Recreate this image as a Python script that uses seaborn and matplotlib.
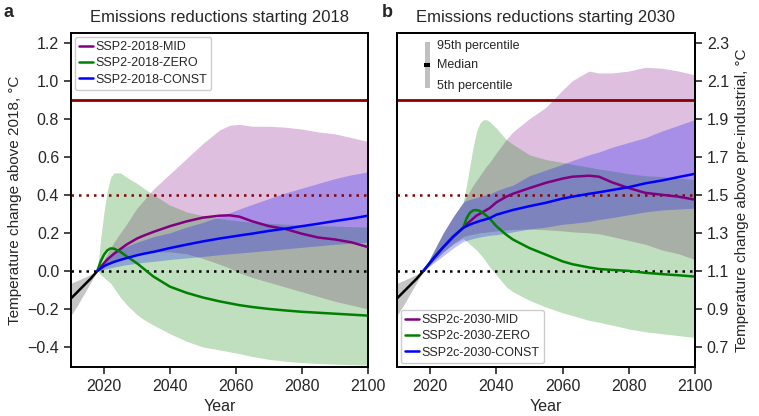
import numpy as np
import pandas as pd
import matplotlib
matplotlib.use("Agg")
import matplotlib.pyplot as plt
import seaborn as sns
from matplotlib.patches import Rectangle

# ---------------- data ----------------
# historical, temperature above 2018 (degC)
hist_years = [2010, 2012, 2014, 2016, 2018]
hist_med = [-0.145, -0.11, -0.075, -0.04, 0.0]
hist_lo = [-0.235, -0.18, -0.12, -0.06, 0.0]
hist_hi = [-0.065, -0.05, -0.035, -0.018, 0.0]

# panel a: reductions starting 2018 (above 2018, degC)
years_a = [2018, 2019, 2020, 2021, 2022, 2023, 2025, 2027, 2030, 2032, 2035, 2040, 2045,
           2050, 2055, 2058, 2061, 2065, 2070, 2075, 2080, 2085, 2090, 2095, 2100]
mid_a = [0, 0.02, 0.04, 0.06, 0.075, 0.09, 0.115, 0.14, 0.17, 0.185, 0.205, 0.235, 0.26,
         0.28, 0.29, 0.292, 0.285, 0.26, 0.235, 0.22, 0.195, 0.175, 0.165, 0.15, 0.125]
mid_a_lo = [0, 0.005, 0.02, 0.03, 0.04, 0.05, 0.06, 0.075, 0.09, 0.095, 0.1, 0.1, 0.09,
            0.065, 0.035, 0.015, -0.01, -0.035, -0.06, -0.085, -0.11, -0.135, -0.16, -0.18, -0.2]
mid_a_hi = [0, 0.03, 0.06, 0.09, 0.12, 0.15, 0.2, 0.25, 0.33, 0.37, 0.43, 0.51, 0.59,
            0.67, 0.74, 0.765, 0.77, 0.76, 0.76, 0.755, 0.745, 0.73, 0.72, 0.7, 0.68]
zero_a = [0, 0.05, 0.085, 0.108, 0.118, 0.117, 0.1, 0.075, 0.04, 0.012, -0.03, -0.083, -0.115,
          -0.14, -0.16, -0.17, -0.18, -0.19, -0.2, -0.208, -0.215, -0.22, -0.225, -0.23, -0.235]
zero_a_lo = [0, -0.02, -0.035, -0.05, -0.065, -0.09, -0.14, -0.18, -0.23, -0.255, -0.285, -0.33, -0.37,
             -0.4, -0.415, -0.425, -0.435, -0.45, -0.465, -0.475, -0.482, -0.487, -0.49, -0.493, -0.495]
zero_a_hi = [0, 0.17, 0.31, 0.42, 0.49, 0.515, 0.515, 0.49, 0.46, 0.435, 0.4, 0.345, 0.31,
             0.29, 0.275, 0.268, 0.262, 0.255, 0.25, 0.245, 0.24, 0.237, 0.235, 0.232, 0.23]
const_a = [0, 0.013, 0.025, 0.033, 0.04, 0.047, 0.058, 0.068, 0.082, 0.09, 0.1, 0.12, 0.138,
           0.155, 0.17, 0.178, 0.186, 0.196, 0.21, 0.222, 0.235, 0.248, 0.262, 0.275, 0.29]
const_a_lo = [0, 0.004, 0.008, 0.012, 0.016, 0.02, 0.027, 0.033, 0.04, 0.045, 0.05, 0.06, 0.068,
              0.076, 0.085, 0.09, 0.094, 0.1, 0.108, 0.116, 0.124, 0.132, 0.14, 0.145, 0.15]
const_a_hi = [0, 0.028, 0.052, 0.068, 0.082, 0.095, 0.115, 0.13, 0.15, 0.162, 0.18, 0.2, 0.23,
              0.255, 0.285, 0.305, 0.325, 0.35, 0.38, 0.41, 0.435, 0.46, 0.485, 0.505, 0.52]

# panel b: reductions starting 2030 (above pre-industrial, degC)
years_b = [2018, 2021, 2024, 2027, 2030, 2031, 2032, 2033, 2034, 2035, 2036, 2037, 2038, 2040,
           2043, 2045, 2050, 2055, 2060, 2063, 2068, 2071, 2075, 2080, 2085, 2090, 2095, 2100]
mid_b = [1.1, 1.165, 1.225, 1.28, 1.326, 1.345, 1.36, 1.375, 1.39, 1.4, 1.41, 1.42, 1.43, 1.46,
         1.49, 1.505, 1.535, 1.563, 1.585, 1.595, 1.6, 1.595, 1.565, 1.535, 1.51, 1.5, 1.49, 1.474]
mid_b_lo = [1.1, 1.15, 1.2, 1.245, 1.28, 1.285, 1.29, 1.293, 1.296, 1.3, 1.302, 1.304, 1.306, 1.31,
            1.315, 1.318, 1.32, 1.316, 1.31, 1.305, 1.3, 1.295, 1.28, 1.26, 1.24, 1.21, 1.19, 1.16]
mid_b_hi = [1.1, 1.2, 1.3, 1.385, 1.46, 1.49, 1.52, 1.55, 1.575, 1.6, 1.625, 1.65, 1.67, 1.72,
            1.79, 1.83, 1.9, 1.96, 2.05, 2.1, 2.15, 2.14, 2.14, 2.15, 2.17, 2.165, 2.15, 2.13]
zero_b = [1.1, 1.165, 1.225, 1.28, 1.326, 1.375, 1.405, 1.418, 1.42, 1.415, 1.403, 1.39, 1.375, 1.335,
          1.29, 1.265, 1.22, 1.185, 1.15, 1.135, 1.118, 1.11, 1.105, 1.1, 1.09, 1.083, 1.077, 1.07]
zero_b_lo = [1.1, 1.15, 1.2, 1.24, 1.27, 1.255, 1.24, 1.225, 1.21, 1.19, 1.17, 1.145, 1.12, 1.08,
             1.016, 0.99, 0.945, 0.91, 0.88, 0.865, 0.84, 0.83, 0.815, 0.795, 0.78, 0.77, 0.76, 0.75]
zero_b_hi = [1.1, 1.2, 1.3, 1.385, 1.46, 1.55, 1.65, 1.75, 1.83, 1.875, 1.893, 1.895, 1.884, 1.85,
             1.79, 1.765, 1.71, 1.685, 1.67, 1.66, 1.645, 1.635, 1.625, 1.61, 1.6, 1.595, 1.587, 1.58]
const_b = [1.1, 1.165, 1.225, 1.28, 1.326, 1.335, 1.343, 1.35, 1.356, 1.362, 1.367, 1.372, 1.377, 1.395,
           1.41, 1.42, 1.44, 1.458, 1.48, 1.49, 1.505, 1.513, 1.525, 1.54, 1.56, 1.575, 1.593, 1.61]
const_b_lo = [1.1, 1.14, 1.18, 1.22, 1.255, 1.26, 1.265, 1.27, 1.274, 1.278, 1.281, 1.284, 1.287, 1.29,
              1.298, 1.305, 1.32, 1.33, 1.345, 1.35, 1.36, 1.37, 1.38, 1.395, 1.41, 1.42, 1.425, 1.43]
const_b_hi = [1.1, 1.2, 1.3, 1.385, 1.46, 1.47, 1.475, 1.48, 1.485, 1.49, 1.495, 1.5, 1.505, 1.52,
              1.54, 1.55, 1.6, 1.63, 1.66, 1.68, 1.71, 1.725, 1.75, 1.775, 1.8, 1.835, 1.865, 1.895]

labels_a = ["SSP2-2018-MID", "SSP2-2018-ZERO", "SSP2-2018-CONST"]
labels_b = ["SSP2c-2030-MID", "SSP2c-2030-ZERO", "SSP2c-2030-CONST"]
colors = ["purple", "green", "blue"]

ref_a = {"solid": 0.9, "dotted": 0.4, "base": 0.0}
ref_b = {"solid": 2.0, "dotted": 1.5, "base": 1.1}
ylim_a = (-0.505, 1.25)
ylim_b = (0.595, 2.35)

# ---------------- plot ----------------
sns.set_style("ticks")
plt.rcParams["font.family"] = ["Liberation Sans", "DejaVu Sans"]
plt.rcParams["axes.linewidth"] = 1.4

fig = plt.figure(figsize=(7.59, 4.16), dpi=100)
ax_a = fig.add_axes([0.0935, 0.1178, 0.3914, 0.8029])
ax_b = fig.add_axes([0.5230, 0.1178, 0.3927, 0.8029])
ax_r = ax_b.twinx()

leg_kw = dict(fontsize=9, handlelength=1.1, handletextpad=0.2, borderpad=0.35,
              labelspacing=0.35, borderaxespad=0.3, framealpha=1)


def draw_panel(ax, years, meds, los, his, labels, ref):
    for lo, hi, c in zip(los, his, colors):
        ax.fill_between(years, lo, hi, color=c, alpha=0.25, lw=0)
    ax.axhline(ref["solid"], color="darkred", lw=2)
    ax.axhline(ref["dotted"], color="darkred", lw=1.8, ls=(0, (1, 2)))
    ax.axhline(ref["base"], color="black", lw=1.8, ls=(0, (1, 2)))
    for m, c, lab in zip(meds, colors, labels):
        sns.lineplot(x=years, y=m, color=c, lw=1.8, label=lab, ax=ax)


def draw_hist(ax):
    ax.fill_between(hist_years, hist_lo, hist_hi, color="grey", alpha=0.45, lw=0)
    sns.lineplot(x=hist_years, y=hist_med, color="black", lw=1.8, ax=ax)


# panel a
draw_hist(ax_a)
draw_panel(ax_a, years_a, [mid_a, zero_a, const_a], [mid_a_lo, zero_a_lo, const_a_lo],
           [mid_a_hi, zero_a_hi, const_a_hi], labels_a, ref_a)
ax_a.set_xlim(2010, 2100)
ax_a.set_ylim(*ylim_a)
ax_a.set_yticks(np.arange(-0.4, 1.21, 0.2))
ax_a.set_yticklabels([f"{v:.1f}".replace("-", "\u2212") for v in np.arange(-0.4, 1.21, 0.2)])
ax_a.set_ylabel("Temperature change above 2018, \u00b0C", fontsize=11)
ax_a.set_title("Emissions reductions starting 2018", fontsize=12, pad=8)
ax_a.legend(loc="upper left", **leg_kw)

# panel b
draw_hist(ax_b)
ax_b.set_ylim(*ylim_a)
ax_b.set_yticks([])
draw_panel(ax_r, years_b, [mid_b, zero_b, const_b], [mid_b_lo, zero_b_lo, const_b_lo],
           [mid_b_hi, zero_b_hi, const_b_hi], labels_b, ref_b)
ax_r.set_xlim(2010, 2100)
ax_b.set_xlim(2010, 2100)
ax_r.set_ylim(*ylim_b)
ax_r.set_yticks(np.arange(0.7, 2.31, 0.2))
ax_r.set_yticklabels([f"{v:.1f}" for v in np.arange(0.7, 2.31, 0.2)])
ax_r.set_ylabel("Temperature change above pre-industrial, \u00b0C", fontsize=11)
ax_b.set_title("Emissions reductions starting 2030", fontsize=12, pad=8)
ax_r.legend(loc="lower left", **leg_kw)

# percentile key
ax_r.add_patch(Rectangle((0.094, 0.835), 0.016, 0.138, transform=ax_r.transAxes,
                         color="#c0c0c0", lw=0))
ax_r.add_patch(Rectangle((0.092, 0.898), 0.020, 0.011, transform=ax_r.transAxes,
                         color="black", lw=0))
for yy, txt in [(0.962, "95th percentile"), (0.904, "Median"), (0.842, "5th percentile")]:
    ax_r.text(0.134, yy, txt, transform=ax_r.transAxes, fontsize=9, va="center")

for ax in (ax_a, ax_b):
    ax.set_xticks([2020, 2040, 2060, 2080, 2100])
    ax.set_xlabel("Year", fontsize=11.5)
    ax.tick_params(labelsize=11.5, length=5, width=1.2)
ax_r.tick_params(labelsize=11.5, length=5, width=1.2)
for ax in (ax_a, ax_b, ax_r):
    for s in ax.spines.values():
        s.set_visible(True)
        s.set_color("black")

fig.text(0.005, 0.97, "a", fontsize=13, fontweight="bold", va="center")
fig.text(0.503, 0.97, "b", fontsize=13, fontweight="bold", va="center")

fig.savefig("out.png", dpi=100)
